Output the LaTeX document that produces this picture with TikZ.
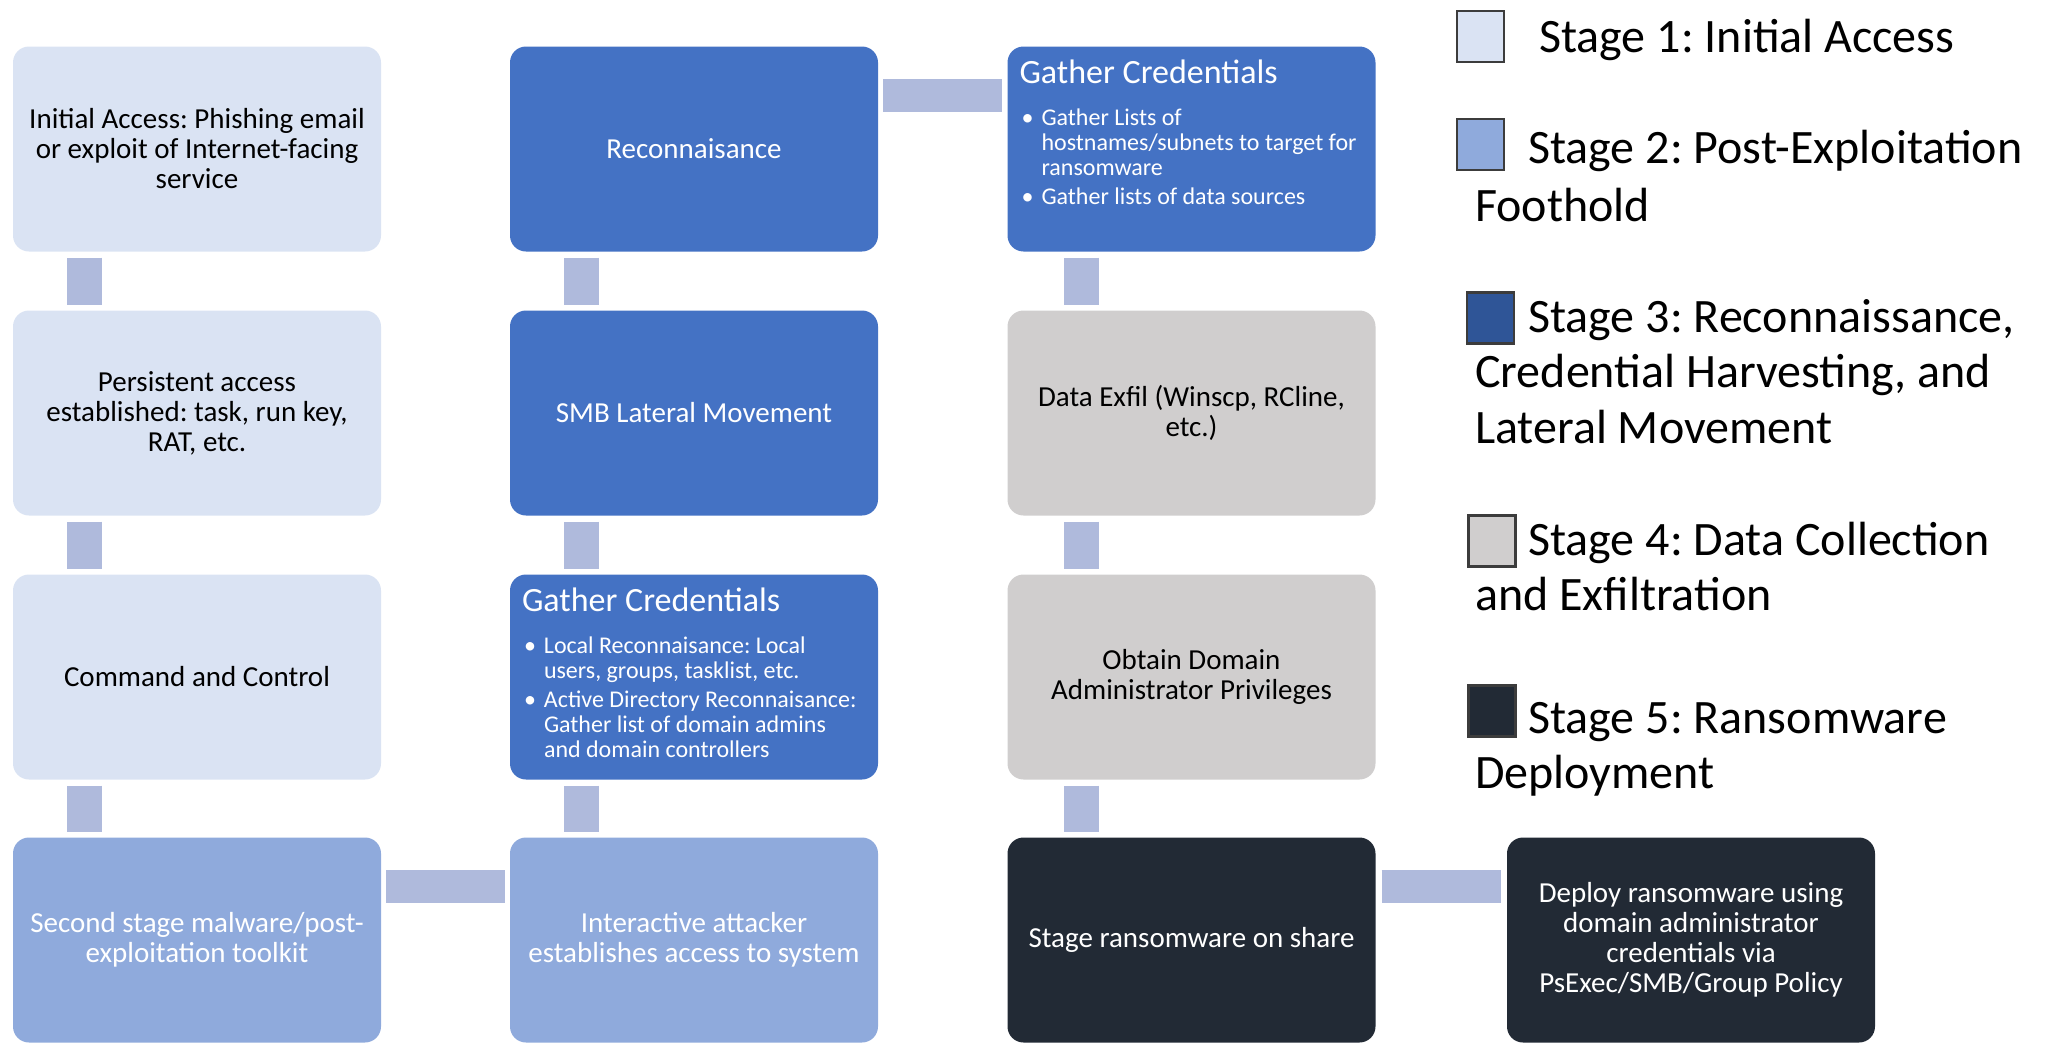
\documentclass[tikz,border=0pt]{standalone}
\usepackage{fontspec}
\setmainfont{Carlito}
\usetikzlibrary{calc}
\frenchspacing
\definecolor{sone}{HTML}{DAE3F3}
\definecolor{stwo}{HTML}{8FAADC}
\definecolor{sthree}{HTML}{4472C4}
\definecolor{sthreed}{HTML}{2F5597}
\definecolor{sfour}{HTML}{D0CECE}
\definecolor{sfive}{HTML}{222A35}
\definecolor{conncol}{HTML}{AFBADC}
\definecolor{legborder}{HTML}{3C3C3C}
\newcommand\bitem[1]{\par\noindent\hangindent=22pt\hangafter=1\makebox[22pt][l]{\hspace{2pt}\textbullet}#1\par}
\begin{document}
\frenchspacing
\begin{tikzpicture}[x=1pt,y=-1pt,
  box/.style={rounded corners=16pt, minimum width=368pt, minimum height=205pt, inner sep=0pt, align=center, font=\fontsize{29}{30}\selectfont\frenchspacing},
  stA/.style={box, fill=sone, text=black},
  stB/.style={box, fill=stwo, text=white},
  stC/.style={box, fill=sthree, text=white},
  stD/.style={box, fill=sfour, text=black},
  stE/.style={box, fill=sfive, text=white},
  bultext/.style={anchor=base west, inner sep=0pt, text=white, font=\fontsize{24}{25}\selectfont\frenchspacing},
  vconn/.style={draw=conncol, line width=35pt},
  hconn/.style={draw=conncol, line width=33pt},
  legsq/.style={draw=legborder, line width=2.5pt, minimum width=47pt, minimum height=51pt, inner sep=0pt},
  legtxt/.style={anchor=base west, inner sep=0pt, font=\fontsize{48}{55}\selectfont\frenchspacing},
]
\useasboundingbox (0,0) rectangle (2051,1044);

% column 1
\node[stA] (ia) at (197,149) {Initial Access: Phishing email\\or exploit of Internet-facing\\service};
\node[stA] (pa) at (197,413) {Persistent access\\established: task, run key,\\RAT, etc.};
\node[stA] (cc) at (197,677) {Command and Control};
\node[stB] (ss) at (197,940) {Second stage malware/post-\\exploitation toolkit};
% column 2
\node[stC] (rc) at (694,149) {Reconnaisance};
\node[stC] (smb) at (694,413) {SMB Lateral Movement};
\node[stC] (gcA) at (694,677) {};
\node[stB] (iat) at (694,940) {Interactive attacker\\establishes access to system};
% column 3
\node[stC] (gcB) at (1191.5,149) {};
\node[stD] (de) at (1191.5,413) {Data Exfil (Winscp, RCline,\\etc.)};
\node[stD] (od) at (1191.5,677) {Obtain Domain\\Administrator Privileges};
\node[stE] (sr) at (1191.5,940) {Stage ransomware on share};
% column 4
\node[stE] (dr) at (1691,940) {Deploy ransomware using\\domain administrator\\credentials via\\PsExec/SMB/Group Policy};

% bullet contents
\node[bultext] (gcAt) at ($(gcA.north west)+(12,37)$) {\vtop{\hsize=360pt\parindent=0pt\parfillskip=0pt plus 1fil
  {\fontsize{34}{40}\selectfont Gather Credentials\par}\vskip17pt
  \bitem{Local Reconnaisance: Local\\users, groups, tasklist, etc.}\vskip4pt
  \bitem{Active Directory Reconnaisance:\\Gather list of domain admins\\and domain controllers}}};
\node[bultext] (gcBt) at ($(gcB.north west)+(12,37)$) {\vtop{\hsize=360pt\parindent=0pt\parfillskip=0pt plus 1fil
  {\fontsize{34}{40}\selectfont Gather Credentials\par}\vskip17pt
  \bitem{Gather Lists of\\hostnames/subnets to target for\\ransomware}\vskip4pt
  \bitem{Gather lists of data sources}}};

% connectors
\draw[vconn] ($(ia.south west)+(72,6)$) -- ($(pa.north west)+(72,-5)$);
\draw[vconn] ($(pa.south west)+(72,6)$) -- ($(cc.north west)+(72,-5)$);
\draw[vconn] ($(cc.south west)+(72,6)$) -- ($(ss.north west)+(72,-5)$);
\draw[hconn] ($(ss.north east)+(5,49.5)$) -- ($(iat.north west)+(-5,49.5)$);
\draw[vconn] ($(gcA.south west)+(72,6)$) -- ($(iat.north west)+(72,-5)$);
\draw[vconn] ($(smb.south west)+(72,6)$) -- ($(gcA.north west)+(72,-5)$);
\draw[vconn] ($(rc.south west)+(72,6)$) -- ($(smb.north west)+(72,-5)$);
\draw[hconn] ($(rc.north east)+(5,49.5)$) -- ($(gcB.north west)+(-5,49.5)$);
\draw[vconn] ($(gcB.south west)+(74,6)$) -- ($(de.north west)+(74,-5)$);
\draw[vconn] ($(de.south west)+(74,6)$) -- ($(od.north west)+(74,-5)$);
\draw[vconn] ($(od.south west)+(74,6)$) -- ($(sr.north west)+(74,-5)$);
\draw[hconn] ($(sr.north east)+(6,49.5)$) -- ($(dr.north west)+(-6,49.5)$);

% legend
\node[legsq, fill=sone] (lq1) at (1480.5,36.5) {};
\node[legtxt] (lt1) at (1539,52) {Stage 1: Initial Access};
\node[legsq, fill=stwo] (lq2) at (1480.5,144.5) {};
\node[legtxt] (lt2a) at (1528,163) {Stage 2: Post-Exploitation};
\node[legtxt] (lt2b) at (1475,221) {Foothold};
\node[legsq, fill=sthreed] (lq3) at (1490.5,318) {};
\node[legtxt] (lt3a) at (1528,332) {Stage 3: Reconnaissance,};
\node[legtxt] (lt3b) at (1475,387) {Credential Harvesting, and};
\node[legtxt] (lt3c) at (1475,443) {Lateral Movement};
\node[legsq, fill=sfour] (lq4) at (1492,541) {};
\node[legtxt] (lt4a) at (1528,555) {Stage 4: Data Collection};
\node[legtxt] (lt4b) at (1475,610) {and Exfiltration};
\node[legsq, fill=sfive] (lq5) at (1492,711) {};
\node[legtxt] (lt5a) at (1528,733) {Stage 5: Ransomware};
\node[legtxt] (lt5b) at (1475,788) {Deployment};
\end{tikzpicture}
\end{document}
